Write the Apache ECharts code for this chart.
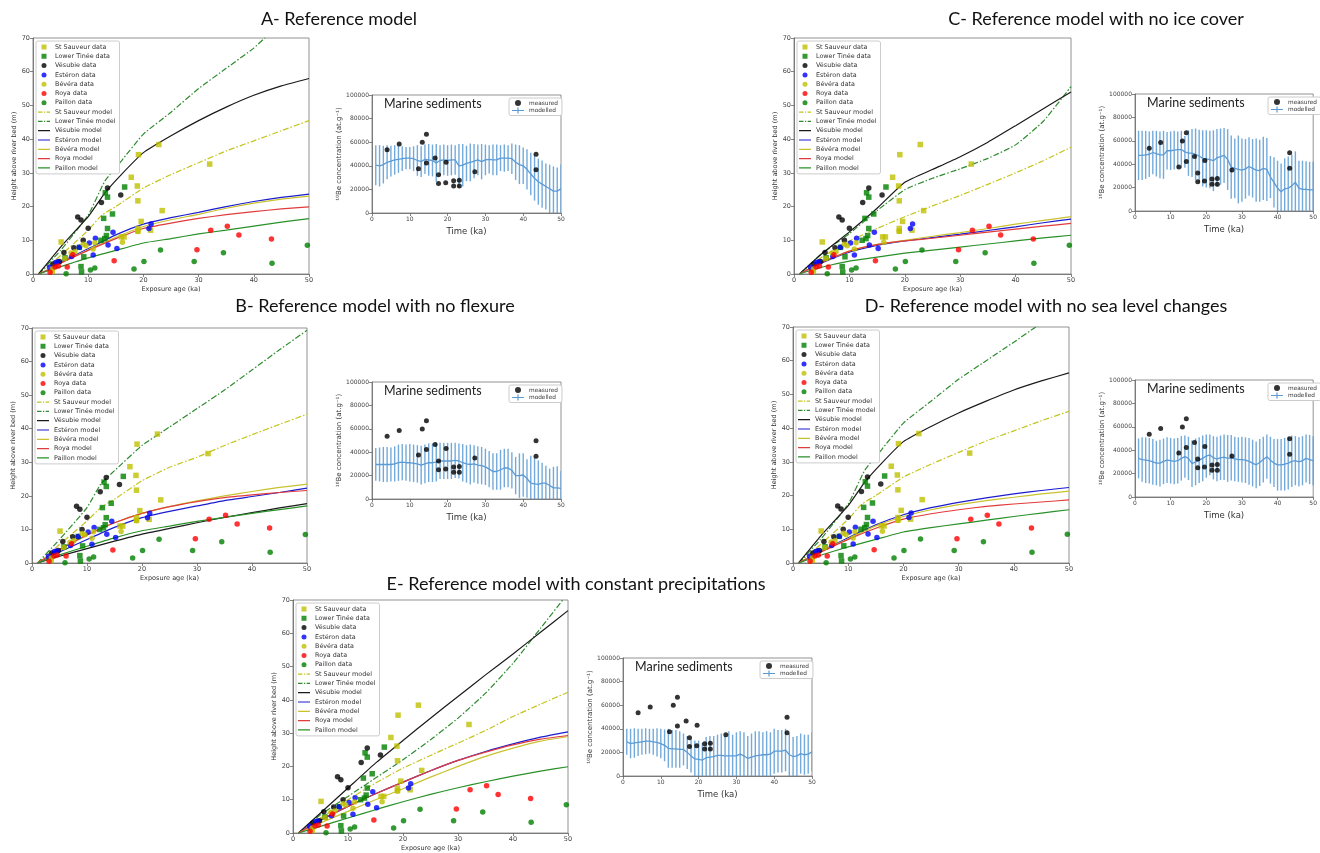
<!DOCTYPE html>
<html>
<head>
<meta charset="utf-8"/>
<title>Terrace models</title>
<script src="https://cdn.jsdelivr.net/npm/echarts@6/dist/echarts.min.js"></script>
<style>html,body{margin:0;padding:0;background:#fff}#main{width:1320px;height:853px}</style>
</head>
<body>
<div id="main"></div>
<script type="text/javascript">
// terrace data : [exposure age (ka), height above river bed (m)]
var stSauveurData = [[3.5,0.8],[5.1,9.5],[17.8,28.7],[18.9,26.1],[19.1,35.4],[19.0,21.7],[19.6,15.6],[22.8,38.4],[23.4,18.8],[32.0,32.6],[19.0,12.7],[19.0,13.5],[21.3,13.0],[16.0,11.0],[16.5,11.0]];
var lowerTineeData = [[13.1,24.1],[13.5,22.8],[16.6,25.8],[14.4,17.8],[12.8,16.5],[13.5,13.5],[13.3,11.4],[12.3,10.0],[8.7,2.2],[8.8,0.6],[9.2,5.1],[8.4,7.9],[13.0,10.5],[5.8,4.8]];
var vesubieData = [[3.6,3.0],[4.8,3.7],[5.6,6.4],[7.4,7.8],[8.1,16.9],[8.7,16.0],[9.1,10.0],[10.0,13.6],[12.4,21.2],[13.5,25.5],[15.9,23.4]];
var esteronData = [[3.0,2.0],[4.1,3.4],[4.5,3.6],[7.0,5.2],[8.4,7.9],[10.2,9.2],[11.3,10.6],[10.9,5.6],[13.6,8.6],[14.5,12.4],[15.2,7.6],[21.0,13.5],[21.4,14.8]];
var beveraData = [[3.5,1.5],[5.8,4.6],[6.9,6.2],[7.6,6.6],[9.1,8.8],[9.6,8.4],[10.9,7.4],[11.2,9.3],[16.2,9.4],[19.0,12.6]];
var royaData = [[3.1,0.5],[4.0,2.1],[4.6,2.4],[6.2,2.1],[7.2,5.7],[14.7,3.9],[29.7,7.2],[32.2,13.0],[35.2,14.2],[37.3,11.6],[43.2,10.4]];
var paillonData = [[6.0,0.1],[10.4,1.2],[11.2,1.8],[18.3,1.5],[20.1,3.7],[23.1,7.1],[29.2,3.7],[34.5,6.3],[43.3,3.2],[49.7,8.5]];

var dataNames = ['St Sauveur data','Lower Tinée data','Vésubie data','Estéron data','Bévéra data','Roya data','Paillon data'];
var modelNames = ['St Sauveur model','Lower Tinée model','Vésubie model','Estéron model','Bévéra model','Roya model','Paillon model'];

// model curves, same order as modelNames
var modelsA = [
	[[1,0],[5,5.5],[10,13],[12.5,17.5],[15,20],[20,25.5],[25,29.5],[30,33],[35,36.5],[40,39.5],[45,42.5],[50,45.5]],
	[[1,0],[5,7],[10,17.5],[13,27.5],[16,33.5],[20,41.5],[25,48],[30,55],[35,61],[40,67],[42,70],[50,80]],
	[[1,0],[5,8],[10,17],[13,24],[16,29.5],[20,36],[25,41],[30,45.5],[35,49.5],[40,53],[45,55.8],[50,58]],
	[[1,0],[3,1.5],[5,3.5],[10,7.5],[15,11.6],[20,14.8],[25,16.7],[30,18.3],[35,20],[40,21.5],[45,22.7],[50,23.7]],
	[[1,0],[3,1.4],[5,3.3],[10,7.2],[15,10.9],[20,14.1],[25,16.1],[30,17.7],[35,19.5],[40,21],[45,22.2],[50,23.1]],
	[[1,0],[3,1.4],[5,3.2],[10,7],[15,10.5],[20,13.5],[25,15.1],[30,16.5],[35,17.6],[40,18.5],[45,19.3],[50,19.9]],
	[[1,0],[5,2.2],[10,4.8],[15,7],[20,9.2],[25,10.5],[30,11.9],[35,13],[40,14.2],[45,15.4],[50,16.4]]
];
var modelsB = [
	[[1,0],[5,5.5],[10,12.5],[12.5,16.5],[15,19],[20,24.5],[25,28.5],[30,31.5],[35,35],[40,38.2],[45,41.3],[50,44.3]],
	[[1,0],[5,7],[10,16.5],[12.5,23.5],[15,27.5],[20,35],[25,40.5],[30,46],[35,51.5],[40,57.5],[45,63.5],[50,69.3]],
	[[1,0],[5,2],[10,4.3],[15,6.5],[20,8.6],[25,10.3],[30,12],[35,13.6],[40,15],[45,16.4],[50,17.7]],
	[[1,0],[5,3.3],[10,7],[15,10.6],[20,13.5],[25,15.4],[30,17],[35,18.6],[40,19.8],[45,21],[50,22.3]],
	[[1,0],[5,4],[10,8.5],[15,12],[20,14.8],[25,16.8],[30,18.5],[35,20],[40,21.3],[45,22.5],[50,23.5]],
	[[1,0],[5,4],[10,8.3],[15,12],[20,14.8],[25,16.8],[30,18.3],[35,19.5],[40,20.3],[45,21],[50,21.6]],
	[[1,0],[5,2.4],[10,5],[15,7.5],[20,9.6],[25,11],[30,12.4],[35,13.6],[40,14.8],[45,15.9],[50,17]]
];
var modelsC = [
	[[1,0],[5,5],[10,9.8],[15,13.5],[20,17],[25,20.2],[30,23.3],[35,26.6],[40,30],[45,33.6],[50,37.6]],
	[[1,0],[5,6],[10,12],[15,18.8],[20,25],[25,28.4],[30,31.2],[35,34.3],[40,38.3],[45,45.3],[50,55.6]],
	[[1,0],[5,6],[10,12.5],[15,19.5],[20,27.2],[25,31],[30,34.8],[35,39.1],[40,44],[45,49],[50,54]],
	[[1,0],[5,3.3],[10,6.5],[15,8.5],[20,9.8],[25,10.8],[30,11.8],[35,12.9],[40,14],[45,15.2],[50,16.3]],
	[[1,0],[5,3.5],[10,6.8],[15,8.8],[20,10],[25,11.2],[30,12.3],[35,13.5],[40,14.8],[45,15.9],[50,17]],
	[[1,0],[5,3.5],[10,6.8],[15,8.7],[20,9.8],[25,10.6],[30,11.5],[35,12.4],[40,13.3],[45,14.2],[50,15]],
	[[1,0],[5,2],[10,3.8],[15,5],[20,6.2],[25,7.1],[30,8],[35,8.9],[40,9.8],[45,10.7],[50,11.5]]
];
var modelsD = [
	[[1,0],[5,5.5],[10,13],[12.5,17.5],[15,20],[20,25.5],[25,29.3],[30,32.8],[35,36.2],[40,39.2],[45,42.2],[50,45]],
	[[1,0],[5,7],[10,17.5],[13,27.5],[16,33.5],[20,41.5],[25,48],[30,54.5],[35,60],[40,65.5],[44,70],[50,76]],
	[[1,0],[5,8],[10,17],[13,24],[16,29.5],[20,36],[25,40.5],[30,44.5],[35,48],[40,51.3],[45,54],[50,56.4]],
	[[1,0],[5,3.5],[10,7.5],[15,11.3],[20,14.3],[25,16.4],[30,18],[35,19.3],[40,20.5],[45,21.5],[50,22.4]],
	[[1,0],[5,3.4],[10,7.2],[15,11],[20,13.8],[25,15.8],[30,17.3],[35,18.5],[40,19.5],[45,20.5],[50,21.3]],
	[[1,0],[5,3.2],[10,7],[15,10.3],[20,13],[25,14.6],[30,15.8],[35,16.8],[40,17.5],[45,18.1],[50,18.7]],
	[[1,0],[5,2.3],[10,4.8],[15,7],[20,9.2],[25,10.5],[30,11.6],[35,12.7],[40,13.8],[45,14.8],[50,15.8]]
];
var modelsE = [
	[[1,0],[5,4.5],[10,10],[15,15],[20,19.5],[25,23.3],[30,27],[35,30.8],[40,35],[45,38.7],[50,42.3]],
	[[1,0],[5,5.5],[10,11],[15,16.5],[20,22],[25,28],[30,34.5],[35,42],[40,51],[45,61.5],[50,72]],
	[[1,0],[5,6],[10,13.5],[15,21],[20,27.8],[25,34.5],[30,41],[35,47.5],[40,53.8],[45,60.3],[50,66.8]],
	[[1,0],[5,3.8],[10,8],[15,11.8],[20,15.3],[25,18.7],[30,21.8],[35,24.5],[40,26.8],[45,28.8],[50,30.4]],
	[[1,0],[5,3],[10,6.5],[15,10],[20,13.3],[25,16.8],[30,20],[35,23],[40,25.5],[45,27.6],[50,29]],
	[[1,0],[5,4],[10,8],[15,11.8],[20,15.3],[25,18.7],[30,21.8],[35,24.3],[40,26.5],[45,28.2],[50,29.3]],
	[[1,0],[5,2],[10,4.5],[15,7],[20,9.4],[25,11.6],[30,13.6],[35,15.4],[40,17.1],[45,18.6],[50,19.9]]
];

// marine sediments : 10Be concentration (at.g-1) against time (ka)
var measuredSed = [[4.0,53700],[7.2,58500],[12.3,37600],[13.3,59900],[14.4,66800],[14.4,42300],[16.7,46600],[17.6,32500],[17.6,25100],[19.6,43100],[19.5,25700],[21.6,27400],[21.6,22800],[23.1,27700],[23.1,22800],[27.2,35000],[43.4,49800],[43.4,36600]];
var marineTime = [1,2,3,4,5,6,7,8,9,10,11,12,13,14,15,16,17,18,19,20,21,22,23,24,25,26,27,28,29,30,31,32,33,34,35,36,37,38,39,40,41,42,43,44,45,46,47,48,49,50];
// modelled mean and top of error bar
var meanA = [40500,40000,41000,43000,44000,45000,45500,46000,46500,46500,46000,44500,43500,45500,45000,44500,42500,44500,45000,44500,45000,45000,40000,40500,42000,43000,44000,45000,43500,45000,45500,45000,45000,46500,46500,46500,46000,43000,41000,40000,37000,33000,29500,26500,24500,22500,20500,18500,18500,20500];
var hiA = [57500,57500,57000,57500,57000,57500,57000,56500,56000,56000,56500,57500,56500,58000,58500,58000,58500,57500,58000,57500,58000,57500,58500,58500,57000,59000,58500,58000,58500,58000,57500,58000,58000,57500,58000,57500,59000,58000,57500,55500,54000,51000,48500,46000,44500,42000,41000,39500,38500,41000];
var meanB = [29500,29500,29500,29500,29500,30000,31000,31500,31000,31000,30500,30000,29000,30000,31000,31000,31500,32500,32500,32500,32500,33000,32500,31000,30000,29500,30000,29000,28500,27500,25500,23500,23500,25000,26500,26500,24500,20000,20000,20500,17500,13500,13000,12500,13500,13500,11500,9500,9500,9000];
var hiB = [43500,44000,44500,44500,44000,45000,46500,47000,46500,47000,46500,46000,45500,46500,47500,47500,48000,48000,48000,48000,48000,48000,47500,47000,46000,46500,46000,45000,44500,43000,41000,39000,39000,42000,43000,43000,40000,36000,39000,39000,34000,37000,36000,33000,31000,28500,26000,27500,28000,24000];
var meanC = [47500,47500,48000,48500,50000,49000,48000,48000,51500,51500,52000,52500,52500,50500,49500,49500,48500,47000,45000,44500,44000,43000,45500,46500,47500,44000,37500,36500,35500,35000,36000,38000,36500,35000,34500,36500,35500,29000,24500,19500,16500,19000,19500,21500,24500,19500,18500,18500,18000,18000];
var hiC = [68500,68500,68500,68000,68500,68500,68000,68500,67500,68000,68500,68000,68500,64000,69000,70000,70500,69500,69000,69000,68500,69000,70000,70500,71000,70000,64500,62000,64500,62000,61500,63000,61500,62000,61000,63500,62500,47000,46000,43000,40500,45000,46500,48000,51000,43000,43000,42500,42000,42000];
var meanD = [33000,32000,31500,31000,30000,29000,29000,30500,31500,31000,30500,31000,33000,34500,33000,28500,30000,31500,33000,35000,36000,33500,32500,33500,34000,33000,33500,32500,32000,32000,31500,30500,29000,27500,29500,32000,34500,31500,29000,27500,27500,28000,29000,30500,31000,30000,31000,33000,32000,31000];
var hiD = [50000,51000,51000,50500,49500,48000,49000,50000,51000,50500,50000,50500,52000,52500,51500,48500,50000,51000,52500,53500,53500,52000,51500,52500,53500,53000,53000,51500,51000,51500,51000,50500,49000,47500,49500,51500,53500,51500,49500,49500,49500,50500,51500,52500,52000,51000,52000,53500,53000,52000];
var meanE = [29000,27500,28000,28500,29000,29500,29500,29000,28500,27500,26000,23500,23000,23000,22500,22500,20000,17000,14500,14000,13500,15500,16000,16500,17500,17500,17000,17000,17000,17000,18500,17000,15000,16000,17000,17500,18000,18000,18500,21000,21000,21000,22000,18000,16500,17000,19000,18000,18500,20500];
var hiE = [40000,40000,40500,40000,40000,40500,40000,40000,40500,40000,39500,40000,39000,39000,38000,36000,34000,31000,30000,30000,28000,33000,34000,34000,35000,36000,34000,38000,35000,37000,38000,37000,34000,36000,38000,38000,37000,38000,37000,40000,39000,39000,40000,36000,33000,34000,36000,35000,35000,37000];

var dataColors = ['#bfbf00','#008000','#000000','#0000ff','#bfbf00','#ff0000','#008000'];
var dataSymbols = ['rect','rect','circle','circle','circle','circle','circle'];
var modelColors = ['#c4c41c','#2e8b2e','#1a1a1a','#1c1cd0','#c9c22e','#e03c3c','#2a902a'];
var dashDot = [6,2,1.5,2];
var sedColor = '#5b9bd5';
// legend handles drawn in a 12x5 box (degenerate corners keep the box size)
var squareIcon = 'path://M0,0L0,0Z M3.5,0H8.5V5H3.5Z M12,5L12,5Z';
var solidIcon = 'path://M0,0L0,0Z M0,1.9H12V3.1H0Z M12,5L12,5Z';
var dashDotIcon = 'path://M0,0L0,0Z M0,1.9H4.5V3.1H0Z M6,1.9H7.2V3.1H6Z M8.7,1.9H12V3.1H8.7Z M12,5L12,5Z';
var modelledIcon = 'path://M0,0L0,0Z M0,2.5H12V3.5H0Z M5.4,0H6.6V6H5.4Z M12,6L12,6Z';

var panels = [
	{title:'A- Reference model', tx:339, ty:19, main:[33,38,276,236], inset:[372,95,189,118], models:modelsA, mean:meanA, hi:hiA},
	{title:'B- Reference model with no flexure', tx:375, ty:306, main:[32,328,275,235], inset:[372,382,189,117], models:modelsB, mean:meanB, hi:hiB},
	{title:'C- Reference model with no ice cover', tx:1096, ty:19, main:[794,38,277,236], inset:[1135,94,185,117], models:modelsC, mean:meanC, hi:hiC},
	{title:'D- Reference model with no sea level changes', tx:1046, ty:306, main:[793,327,276,236], inset:[1135,380,185,117], models:modelsD, mean:meanD, hi:hiD},
	{title:'E- Reference model with constant precipitations', tx:576, ty:584, main:[293,600,275,236], inset:[623,658,189,118], models:modelsE, mean:meanE, hi:hiE}
];
var terraceData = [stSauveurData, lowerTineeData, vesubieData, esteronData, beveraData, royaData, paillonData];

var grids = [], xAxes = [], yAxes = [], series = [], legends = [], graphics = [];

function axisBase(gi, min, max, interval, name, gap, labelSize, nameSize){
	return {
		gridIndex: gi, type: 'value', min: min, max: max, interval: interval,
		name: name, nameLocation: 'middle', nameGap: gap,
		nameTextStyle: {fontSize: nameSize, color: '#333'},
		axisLine: {show: true, onZero: false, lineStyle: {color: '#666', width: 0.8}},
		axisTick: {show: true, length: 3, lineStyle: {color: '#666', width: 0.8}},
		axisLabel: {fontSize: labelSize, color: '#444', margin: 3, formatter: function(v){ return String(v); }},
		splitLine: {show: false}
	};
}

var legendItems = [];
dataNames.forEach(function(n, k){
	legendItems.push({name: n, icon: dataSymbols[k] == 'rect' ? squareIcon : 'circle'});
});
modelNames.forEach(function(n, k){
	legendItems.push({name: n, icon: k < 2 ? dashDotIcon : solidIcon});
});

panels.forEach(function(p, i){
	var gm = 2 * i, gs = 2 * i + 1;
	var m = p.main, s = p.inset;
	grids.push({left: m[0], top: m[1], width: m[2], height: m[3], show: true, borderColor: '#777', borderWidth: 0.8});
	grids.push({left: s[0], top: s[1], width: s[2], height: s[3], show: true, borderColor: '#777', borderWidth: 0.8});
	xAxes.push(axisBase(gm, 0, 50, 10, 'Exposure age (ka)', 12, 6.5, 6.5));
	yAxes.push(axisBase(gm, 0, 70, 10, 'Height above river bed (m)', 15, 6.5, 6.5));
	xAxes.push(axisBase(gs, 0, 50, 10, 'Time (ka)', 14, 6, 8.5));
	yAxes.push(axisBase(gs, 0, 100000, 20000, '¹⁰Be concentration (at.g⁻¹)', 28, 6, 7));

	// terrace data points
	terraceData.forEach(function(d, k){
		series.push({
			name: dataNames[k], type: 'scatter', xAxisIndex: gm, yAxisIndex: gm,
			data: d, symbol: dataSymbols[k], symbolSize: 5.5,
			itemStyle: {color: dataColors[k]}, z: 3
		});
	});
	// model curves
	p.models.forEach(function(d, k){
		series.push({
			name: modelNames[k], type: 'line', xAxisIndex: gm, yAxisIndex: gm,
			data: d, symbol: 'none', smooth: 0.15,
			lineStyle: {color: modelColors[k], width: 1.2, type: k < 2 ? dashDot : 'solid'},
			itemStyle: {color: modelColors[k]}, z: 2
		});
	});
	legends.push({
		left: m[0] + 3, top: m[1] + 3, orient: 'vertical', selectedMode: false,
		data: legendItems,
		itemWidth: 12, itemHeight: 5, itemGap: 3.3,
		textStyle: {fontSize: 6.4, color: '#333'},
		backgroundColor: '#fff', borderColor: '#ccc', borderWidth: 1, borderRadius: 2,
		padding: [3, 4, 3, 2]
	});

	// marine sediments inset
	var bars = [], line = [];
	marineTime.forEach(function(t, k){
		var lo = 2 * p.mean[k] - p.hi[k];
		bars.push([t, Math.max(0, lo), p.hi[k]]);
		line.push([t, p.mean[k]]);
	});
	series.push({
		name: 'modelled bars', type: 'custom', xAxisIndex: gs, yAxisIndex: gs, data: bars, clip: true,
		renderItem: function(params, api){
			var a = api.coord([api.value(0), api.value(1)]);
			var b = api.coord([api.value(0), api.value(2)]);
			return {type: 'line', shape: {x1: a[0], y1: a[1], x2: b[0], y2: b[1]}, style: {stroke: sedColor, lineWidth: 1.4, opacity: 0.85}};
		}, z: 2
	});
	series.push({
		name: 'modelled', type: 'line', xAxisIndex: gs, yAxisIndex: gs, data: line,
		symbol: 'none', lineStyle: {color: sedColor, width: 1.3}, itemStyle: {color: sedColor}, z: 3
	});
	series.push({
		name: 'measured', type: 'scatter', xAxisIndex: gs, yAxisIndex: gs, data: measuredSed,
		symbol: 'circle', symbolSize: 5, itemStyle: {color: '#000'}, z: 4
	});
	legends.push({
		left: s[0] + s[2] - 52, top: s[1] + 3, orient: 'vertical', selectedMode: false,
		data: [{name: 'measured', icon: 'circle'}, {name: 'modelled', icon: modelledIcon}],
		itemWidth: 12, itemHeight: 6, itemGap: 1.5,
		textStyle: {fontSize: 5.8, color: '#333'},
		backgroundColor: '#fff', borderColor: '#ccc', borderWidth: 1, borderRadius: 2,
		padding: [2, 4, 2, 3]
	});

	graphics.push({type: 'text', x: p.tx, y: p.ty, style: {text: p.title, x: 0, y: 0, align: 'center', verticalAlign: 'middle', font: '18px Lato', fill: '#111'}});
	graphics.push({type: 'text', x: s[0] + 12, y: s[1] + 9, style: {text: 'Marine sediments', x: 0, y: 0, align: 'left', verticalAlign: 'middle', font: '12.5px Lato', fill: '#222'}, z: 10});
});

var myChart = echarts.init(document.getElementById('main'));
var option = {
	backgroundColor: '#fff',
	animation: false,
	textStyle: {fontFamily: 'DejaVu Sans'},
	grid: grids,
	xAxis: xAxes,
	yAxis: yAxes,
	legend: legends,
	graphic: graphics,
	series: series
};
myChart.setOption(option);
</script>
</body>
</html>
